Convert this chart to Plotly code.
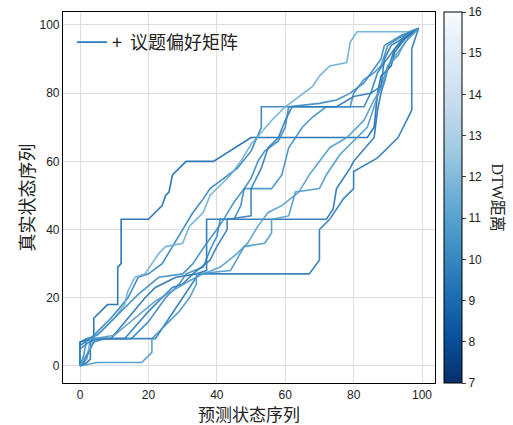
import plotly.graph_objects as go
from plotly.colors import sample_colorscale

# ---- data: DTW alignment paths (predicted index, true index) and their DTW distances ----
path1_x = [0, 0, 4, 4, 8, 11, 11, 12, 12, 20, 24, 25, 26, 27, 31, 39, 50, 84, 86, 87, 88, 91, 92, 95, 99]
path1_y = [0, 7, 8, 14, 18, 18, 29, 30, 43, 43, 47, 50, 51, 56, 60, 60, 67, 67, 70, 80, 85, 88, 92, 96, 99]
path2_x = [0, 0, 2, 22, 34, 35, 67, 70, 70, 73, 77, 80, 80, 87, 93, 97, 97, 99]
path2_y = [0, 7, 8, 8, 26, 27, 27, 31, 40, 43, 49, 52, 57, 61, 67, 75, 93, 99]
path3_x = [0, 2, 3, 3, 5, 9, 19, 22, 28, 34, 37, 37, 72, 74, 75, 79, 80, 86, 87, 88, 90, 92, 97, 99]
path3_y = [0, 1, 2, 7, 8, 8, 20, 23, 26, 27, 28, 43, 43, 46, 52, 58, 60, 67, 75, 80, 87, 93, 98, 99]
path4_x = [0, 5, 18, 21, 21, 24, 29, 32, 34, 34, 44, 48, 54, 56, 56, 61, 63, 70, 72, 76, 80, 84, 86, 88, 90, 93, 96, 99]
path4_y = [0, 1, 1, 4, 8, 11, 16, 20, 24, 27, 28, 35, 36, 39, 43, 44, 51, 52, 56, 62, 66, 70, 76, 82, 88, 92, 96, 99]
path5_x = [0, 0, 3, 9, 14, 17, 20, 24, 27, 30, 33, 36, 38, 42, 46, 50, 53, 53, 83, 85, 87, 89, 92, 95, 99]
path5_y = [0, 6, 8, 14, 20, 26, 27, 30, 35, 40, 45, 49, 52, 55, 58, 63, 70, 76, 76, 80, 86, 89, 93, 97, 99]
path6_x = [0, 2, 3, 6, 10, 13, 14, 16, 19, 23, 25, 30, 32, 36, 38, 41, 44, 47, 50, 56, 60, 64, 68, 70, 73, 78, 79, 81, 96, 99]
path6_y = [0, 2, 8, 10, 14, 18, 22, 26, 27, 33, 35, 36, 41, 45, 50, 53, 56, 60, 65, 72, 76, 79, 82, 85, 88, 89, 95, 98, 98, 99]
path7_x = [0, 1, 2, 5, 12, 17, 23, 30, 33, 37, 40, 42, 45, 48, 56, 59, 61, 63, 65, 68, 72, 79, 80, 83, 86, 88, 90, 93, 97, 99]
path7_y = [0, 3, 8, 9, 16, 21, 26, 27, 30, 36, 40, 43, 48, 52, 52, 56, 64, 67, 70, 73, 76, 76, 80, 84, 86, 88, 94, 96, 98, 99]
path8_x = [0, 1, 4, 7, 13, 20, 27, 30, 33, 38, 40, 43, 43, 50, 50, 53, 55, 58, 60, 62, 75, 80, 85, 88, 89, 91, 96, 99]
path8_y = [0, 1, 7, 8, 8, 16, 23, 24, 27, 31, 35, 40, 43, 44, 52, 58, 64, 67, 72, 76, 76, 79, 80, 82, 90, 94, 97, 99]
path9_x = [0, 0, 4, 15, 20, 25, 29, 31, 36, 38, 40, 41, 45, 47, 48, 50, 52, 54, 58, 60, 61, 70, 75, 79, 83, 86, 88, 89, 94, 99]
path9_y = [0, 5, 8, 8, 13, 20, 24, 27, 29, 34, 38, 43, 43, 47, 52, 55, 60, 63, 66, 70, 76, 77, 78, 80, 83, 87, 90, 94, 97, 99]
path10_x = [0, 1, 3, 4, 10, 16, 22, 27, 32, 36, 41, 46, 49, 52, 55, 59, 64, 67, 70, 73, 78, 83, 86, 89, 90, 93, 95, 98, 99]
path10_y = [0, 2, 5, 8, 9, 14, 19, 22, 25, 27, 29, 33, 36, 41, 45, 47, 51, 56, 60, 64, 67, 72, 78, 83, 88, 91, 95, 98, 99]

paths_x = [path1_x, path2_x, path3_x, path4_x, path5_x, path6_x, path7_x, path8_x, path9_x, path10_x]
paths_y = [path1_y, path2_y, path3_y, path4_y, path5_y, path6_y, path7_y, path8_y, path9_y, path10_y]
dtw_dist = [9.0, 9.5, 9.3, 10.6, 9.8, 11.5, 10.2, 9.6, 10.0, 10.8]

cmin, cmax = 7, 16
tick_vals = [0, 20, 40, 60, 80, 100]
cbar_ticks = [7, 8, 9, 10, 11, 12, 13, 14, 15, 16]
legend_label = "+\u00a0\u00a0议题偏好矩阵"
x_title = "预测状态序列"
y_title = "真实状态序列"
cbar_title = "DTW距离"

CJK = "Noto Sans CJK SC"
LAT = "Liberation Sans, Arial"
SERIF = "Liberation Serif, Noto Sans CJK SC"

fig = go.Figure()
for px_, py_, d in zip(paths_x, paths_y, dtw_dist):
    col = sample_colorscale("Blues_r", [(d - cmin) / (cmax - cmin)])[0]
    fig.add_trace(go.Scatter(x=px_, y=py_, mode="lines",
                             line=dict(color=col, width=1.6), opacity=0.9,
                             showlegend=False, hoverinfo="skip"))

# legend entry
fig.add_trace(go.Scatter(x=[None], y=[None], mode="lines", name=legend_label,
                         line=dict(color="rgb(45,120,190)", width=1.8), showlegend=True))

# colorbar carrier
fig.add_trace(go.Scatter(x=[0], y=[0], mode="markers", showlegend=False, hoverinfo="skip",
                         marker=dict(size=0.1, opacity=0, color=[cmin], cmin=cmin, cmax=cmax,
                                     colorscale="Blues_r", showscale=True,
                                     colorbar=dict(x=1.024, xanchor="left", y=0.5, yanchor="middle",
                                                   len=1.0, lenmode="fraction", thickness=18,
                                                   xpad=0, ypad=0,
                                                   outlinecolor="black", outlinewidth=1,
                                                   tickvals=cbar_ticks, ticks="outside", ticklen=4,
                                                   tickfont=dict(family=LAT, size=12, color="#222")))))

axis_common = dict(range=[-5, 103.8], tickvals=tick_vals, showgrid=True, gridcolor="rgb(222,222,222)",
                   gridwidth=1, zeroline=False, showline=True, linecolor="black", linewidth=1.2,
                   mirror=True, ticks="", automargin=False,
                   tickfont=dict(family=LAT, size=12, color="#222"))

fig.update_layout(
    width=513, height=425,
    margin=dict(l=63, r=78, t=12, b=42, autoexpand=False),
    paper_bgcolor="white", plot_bgcolor="white",
    xaxis=dict(**axis_common),
    yaxis=dict(**axis_common),
    legend=dict(x=0.024, y=0.968, xanchor="left", yanchor="top", bgcolor="rgba(0,0,0,0)",
                font=dict(family=CJK, size=18, color="#222")),
    showlegend=True,
    annotations=[
        dict(text=x_title, xref="paper", yref="paper", x=0.5, y=-0.083, xanchor="center", yanchor="middle",
             showarrow=False, font=dict(family=CJK, size=17, color="#222")),
        dict(text=y_title, xref="paper", yref="paper", x=-0.102, y=0.5, xanchor="center", yanchor="middle",
             textangle=-90, showarrow=False, font=dict(family=CJK, size=18, color="#222")),
        dict(text=cbar_title, xref="paper", yref="paper", x=1.167, y=0.5, xanchor="center", yanchor="middle",
             textangle=90, showarrow=False, font=dict(family=SERIF, size=16, color="#222")),
    ],
)

fig.write_html("out.html", config={"displayModeBar": False},
               post_script="document.body.style.margin='0px';document.body.style.overflow='hidden';")
